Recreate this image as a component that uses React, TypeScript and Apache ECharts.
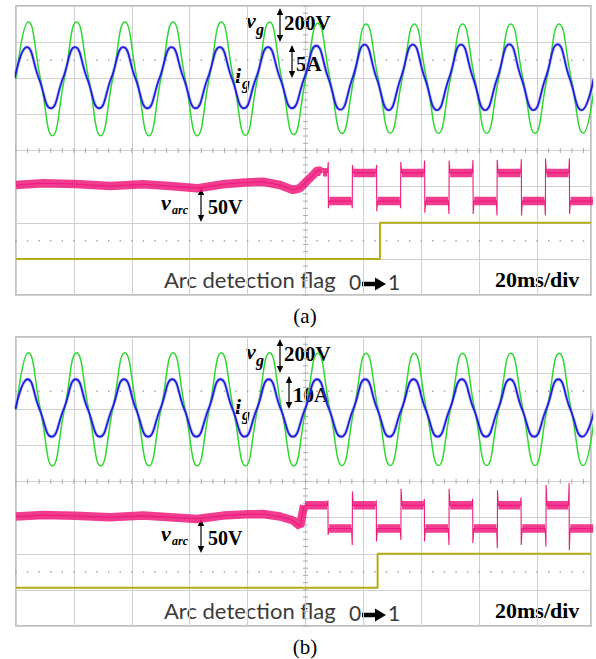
import React, { useEffect, useRef } from "react";
import * as echarts from "echarts";

// ---------- time base ----------
const MS_PER_DIV = 20;
const T_MAX = 198.6; // visible record, ms (slightly less than 10 div)
const QUARTER = 4.1667; // quarter period of the 60 Hz grid, ms

// ---------- panel (a) ----------
const vgA_t0 = 0.08; // ms, first rising zero crossing
const vgA = [0, 312, 0, -318, 0, 312, 0, -318, 0, 312, 0, -318, 0, 312, 0, -318, 0, 311, 0, -316, 0, 311, 0, -312, 0, 304, 0, -306, 0, 301, 0, -304, 0, 300, 0, -305, 0, 300, 0, -305, 0, 300, 0, -305, 0, 301, 0, -304, 0];
const igA_t0 = -0.45;
const igA = [0, 4.3, 0, -4.15, 0, 4.3, 0, -4.15, 0, 4.3, 0, -4.15, 0, 4.3, 0, -4.15, 0, 4.3, 0, -4.15, 0, 4.3, 0, -4.15, 0, 4.5, 0, -4.35, 0, 4.65, 0, -4.4, 0, 4.65, 0, -4.4, 0, 4.65, 0, -4.4, 0, 4.7, 0, -4.4, 0, 4.7, 0, -4.4, 0];
// arc voltage before / at arc ignition: [ms, V]
const arcPreA = [[0, 2.2], [9.3, 4.6], [20.4, 3.6], [32.5, 0.8], [43.9, 3.2], [53.2, 0.8], [62.5, -2.4], [71.5, 3.2], [79.1, 5.7], [85.3, 6.8], [91.2, 2.2], [95.7, -4.7], [98.1, -2], [100.5, 7.8], [102.6, 16], [104.3, 23], [105.7, 20]];
// after ignition: plateau edges (ms), plateau level (V), spike after edge, spike before next edge
const arcEdgesA = [105.7, 107.9, 116.2, 124.6, 132.9, 141.2, 149.6, 157.9, 166.2, 174.6, 182.9, 191.2, 199.6];
const arcLevelA = [20, -20, 19, -20, 19, -20, 19, -20, 19, -20, 19, -20];
const arcSpikeInA = [20, -30, 30, -34, 34, -36, 36, -38, 37, -40, 39, -38];
const arcSpikeOutA = [34, -30, 30, -30, 36, -38, 37, -40, 38, -40, 39, -20];
const flagA = [[0, 0], [125.7, 0], [125.7, 1], [T_MAX, 1]];

// ---------- panel (b) ----------
const vgB_t0 = 0.08;
const vgB = [0, 313, 0, -314, 0, 313, 0, -314, 0, 313, 0, -314, 0, 313, 0, -314, 0, 313, 0, -314, 0, 313, 0, -314, 0, 310, 0, -312, 0, 310, 0, -312, 0, 310, 0, -312, 0, 310, 0, -312, 0, 310, 0, -312, 0, 310, 0, -312, 0];
const igB_t0 = -0.2;
const igB = [0, 8.3, 0, -7.6, 0, 8.3, 0, -7.6, 0, 8.3, 0, -7.6, 0, 8.3, 0, -7.6, 0, 8.3, 0, -7.6, 0, 8.3, 0, -7.6, 0, 8.3, 0, -7.6, 0, 8.3, 0, -7.6, 0, 8.3, 0, -7.6, 0, 8.3, 0, -7.6, 0, 8.3, 0, -7.6, 0, 8.3, 0, -7.6, 0];
const arcPreB = [[0, 1.5], [9.3, 3.5], [20.4, 2.5], [32.5, 0.5], [43.9, 2.8], [53.2, 0.5], [62.5, -2], [71.5, 2.8], [79.1, 4.5], [85.3, 5], [91.2, 1.5], [95.7, -4], [98.1, -12], [99.5, 17]];
const arcEdgesB = [99.5, 107.8, 116.2, 124.5, 133.0, 141.1, 149.6, 157.8, 166.3, 174.5, 183.1, 191.1, 199.7];
const arcLevelB = [17, -15, 17, -15, 17, -15, 17, -15, 17, -15, 17, -15];
const arcSpikeInB = [17, -24, 36, -33, 40, -33, 40, -35, 38, -38, 45, -45];
const arcSpikeOutB = [24, -38, 24, -31, 26, -38, 26, -42, 28, -40, 48, -15];
const flagB = [[0, 0.06], [124.9, 0.06], [124.9, 1], [T_MAX, 1]];

// ---------- layout ----------
const GRID_LEFT = 16;
const GRID_W = 575;
const GRID_H = 289;
const PANEL_TOP = [6, 337];

const C_GREEN = "#2fd82f";
const C_BLUE = "#1e1edc";
const C_PINK = "#ee1a7c";
const C_YELLOW = "#b3ad18";

const keyPoints = (t0: number, vals: number[]) => vals.map((v, k) => [t0 + k * QUARTER, v]);

function arcTrace(pre: number[][], edges: number[], level: number[], sIn: number[], sOut: number[]) {
  const thin: any[] = pre.map((p) => [p[0], p[1]]);
  const band: any[] = pre.map((p) => [p[0], p[1]]);
  band.push(null);
  for (let i = 0; i < level.length; i++) {
    const a = edges[i];
    const b = edges[i + 1];
    thin.push([a, sIn[i]]);
    thin.push([a + 0.3, level[i]]);
    thin.push([b - 0.3, level[i]]);
    thin.push([b - 0.06, sOut[i]]);
    band.push([a + 0.35, level[i]]);
    band.push([b - 0.35, level[i]]);
    band.push(null);
  }
  return { thin, band };
}

function arrow(x: number, y1: number, y2: number) {
  const h = 7;
  const w = 3.2;
  return {
    type: "group",
    children: [
      { type: "line", shape: { x1: x, y1: y1 + 3, x2: x, y2: y2 - 3 }, style: { stroke: "#000", lineWidth: 1.2 } },
      { type: "polygon", shape: { points: [[x, y1], [x - w, y1 + h], [x + w, y1 + h]] }, style: { fill: "#000" } },
      { type: "polygon", shape: { points: [[x, y2], [x - w, y2 - h], [x + w, y2 - h]] }, style: { fill: "#000" } },
    ],
  };
}

function boldArrow(x1: number, x2: number, c: number) {
  const hx = x2 - 11;
  return {
    type: "polygon",
    shape: { points: [[x1, c - 2.2], [hx, c - 2.2], [hx, c - 6.5], [x2, c], [hx, c + 6.5], [hx, c + 2.2], [x1, c + 2.2]] },
    style: { fill: "#000" },
  };
}

const SERIF = '"Liberation Serif", "Times New Roman", serif';
function txt(text: string, x: number, baseline: number, size: number, style: string, family: string, k: number, fill = "#000", align = "left") {
  return {
    type: "text",
    x,
    y: baseline - k * size,
    style: { text, font: `${style} ${size}px ${family}`, fill, textAlign: align, textVerticalAlign: "middle" },
  };
}
const KS = 0.3375; // central baseline offset, Liberation Serif
const KL = 0.387; // Lato

function panelLabels(dy: number, amps: string, ampsArrowX: number, tag: string) {
  return [
    txt("v", 246, 28 + dy, 22, "italic bold", SERIF, KS),
    txt("g", 256, 35 + dy, 16, "italic bold", SERIF, KS),
    txt("200V", 284, 30 + dy, 21, "bold", SERIF, KS),
    txt(amps, ampsArrowX + 4, 71 + dy, 21, "bold", SERIF, KS),
    txt("i", 235, 83 + dy, 22, "italic bold", SERIF, KS),
    txt("g", 242, 89 + dy, 16, "italic bold", SERIF, KS),
    txt("v", 161, 210 + dy, 22, "italic bold", SERIF, KS),
    txt("arc", 172, 214 + dy, 12, "italic bold", SERIF, KS),
    txt("50V", 208, 214 + dy, 20, "bold", SERIF, KS),
    txt("Arc detection flag", 164, 288 + dy, 22, "normal", "Lato", KL, "#3a3a3a"),
    txt("0", 349, 290 + dy, 21, "normal", "Lato", KL, "#3a3a3a"),
    boldArrow(362, 386, 284 + dy),
    txt("1", 388, 290 + dy, 21, "normal", "Lato", KL, "#3a3a3a"),
    txt("20ms/div", 495, 287 + dy, 22, "bold", SERIF, KS),
    txt(tag, 305, 323 + dy, 21, "normal", SERIF, KS, "#000", "center"),
    arrow(280, 8 + dy, 42 + dy),
    arrow(ampsArrowX, 45 + dy, 78 + dy),
    arrow(201, 188 + dy, 222 + dy),
  ];
}

export default function App() {
  const ref = useRef<HTMLDivElement>(null);
  useEffect(() => {
    document.body.style.margin = "0";
    const chart = echarts.init(ref.current!, undefined, { renderer: "svg" });

    const grids = PANEL_TOP.map((top) => ({
      left: GRID_LEFT,
      top,
      width: GRID_W,
      height: GRID_H,
      show: true,
      borderColor: "#a9a9a9",
      borderWidth: 1.5,
      backgroundColor: "#ffffff",
    }));
    const xAxes = PANEL_TOP.map((_, i) => ({
      gridIndex: i,
      type: "value",
      min: 0,
      max: T_MAX,
      interval: MS_PER_DIV,
      axisLabel: { show: false },
      axisTick: { show: false },
      axisLine: { show: false },
      splitLine: { show: true, lineStyle: { color: "#d0d0d0", width: 1 } },
    }));
    const hidden = (gi: number, min: number, max: number) => ({
      gridIndex: gi,
      type: "value",
      min,
      max,
      show: false,
      splitLine: { show: false },
    });
    const yAxes: any[] = [];
    const ampsRange = [
      [-30, 10],
      [-60, 20],
    ];
    PANEL_TOP.forEach((_, i) => {
      yAxes.push({
        gridIndex: i,
        type: "value",
        min: -4,
        max: 4,
        interval: 1,
        axisLabel: { show: false },
        axisTick: { show: false },
        axisLine: { show: false },
        splitLine: { show: true, lineStyle: { color: "#d0d0d0", width: 1 } },
      });
      yAxes.push(hidden(i, -1200, 400)); // vg 200 V/div, +2 div
      yAxes.push(hidden(i, ampsRange[i][0], ampsRange[i][1])); // ig
      yAxes.push(hidden(i, -150, 250)); // varc 50 V/div, -1 div
      yAxes.push(hidden(i, -1, 7)); // flag, -3 div
    });

    const panels = [
      { vg: keyPoints(vgA_t0, vgA), ig: keyPoints(igA_t0, igA), arc: arcTrace(arcPreA, arcEdgesA, arcLevelA, arcSpikeInA, arcSpikeOutA), flag: flagA },
      { vg: keyPoints(vgB_t0, vgB), ig: keyPoints(igB_t0, igB), arc: arcTrace(arcPreB, arcEdgesB, arcLevelB, arcSpikeInB, arcSpikeOutB), flag: flagB },
    ];

    const series: any[] = [];
    panels.forEach((p, i) => {
      const base = i * 5;
      series.push({
        type: "custom",
        xAxisIndex: i,
        yAxisIndex: base,
        data: [[0, 0]],
        silent: true,
        clip: false,
        z: 1,
        renderItem: (_params: any, api: any) => {
          const children: any[] = [];
          for (let k = 0; k * 4 <= T_MAX; k++) {
            const c = api.coord([k * 4, 0]);
            children.push({ type: "line", shape: { x1: c[0], y1: c[1] - 2.5, x2: c[0], y2: c[1] + 2.5 }, style: { stroke: "#aaaaaa", lineWidth: 1 } });
            [2.5, -2.5].forEach((d) => {
              const q = api.coord([k * 4, d]);
              children.push({ type: "rect", shape: { x: q[0] - 0.7, y: q[1] - 0.7, width: 1.4, height: 1.4 }, style: { fill: "#a0a0a0" } });
            });
          }
          for (let k = -20; k <= 20; k++) {
            const c = api.coord([100, k * 0.2]);
            children.push({ type: "line", shape: { x1: c[0] - 2.5, y1: c[1], x2: c[0] + 2.5, y2: c[1] }, style: { stroke: "#aaaaaa", lineWidth: 1 } });
          }
          return { type: "group", children };
        },
      });
      series.push({
        type: "line", xAxisIndex: i, yAxisIndex: base + 4, data: p.flag, symbol: "none", z: 2,
        lineStyle: { color: C_YELLOW, width: 2 },
      });
      series.push({
        type: "line", xAxisIndex: i, yAxisIndex: base + 3, data: p.arc.band, symbol: "none", connectNulls: false, z: 3,
        lineStyle: { color: C_PINK, width: 8.5, opacity: 0.85, cap: "butt" },
      });
      series.push({
        type: "line", xAxisIndex: i, yAxisIndex: base + 3, data: p.arc.thin, symbol: "none", z: 4,
        lineStyle: { color: C_PINK, width: 1.1 },
      });
      series.push({
        type: "line", xAxisIndex: i, yAxisIndex: base + 1, data: p.vg, symbol: "none", smooth: 0.5, z: 5,
        lineStyle: { color: C_GREEN, width: 1.5 },
      });
      series.push({
        type: "line", xAxisIndex: i, yAxisIndex: base + 2, data: p.ig, symbol: "none", smooth: 0.5, z: 6,
        lineStyle: { color: "#7070f0", width: 3.4, opacity: 0.35 },
      });
      series.push({
        type: "line", xAxisIndex: i, yAxisIndex: base + 2, data: p.ig, symbol: "none", smooth: 0.5, z: 7,
        lineStyle: { color: C_BLUE, width: 1.8 },
      });
    });

    chart.setOption({
      animation: false,
      backgroundColor: "#ffffff",
      grid: grids,
      xAxis: xAxes,
      yAxis: yAxes,
      series,
      graphic: { elements: [...panelLabels(0, "5A", 292, "(a)"), ...panelLabels(331, "10A", 289, "(b)")] },
    });
    return () => chart.dispose();
  }, []);
  return <div ref={ref} style={{ width: 596, height: 659 }} />;
}
